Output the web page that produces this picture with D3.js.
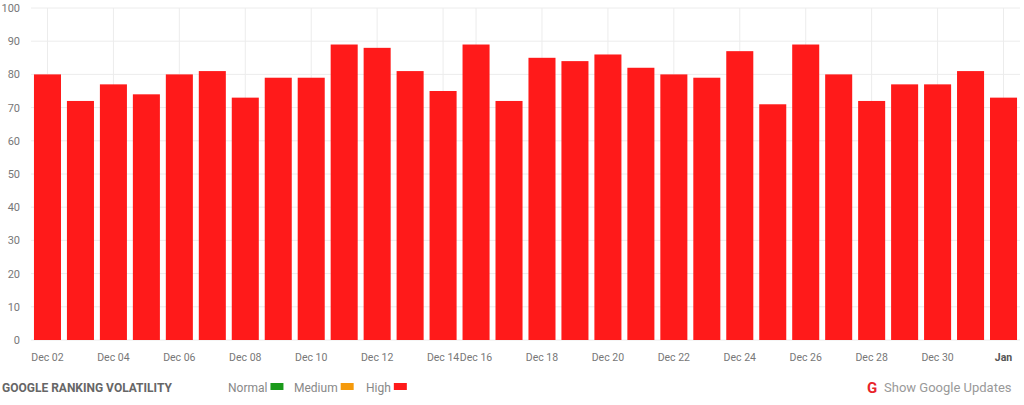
<!DOCTYPE html>
<html><head><meta charset="utf-8">
<script src="https://cdn.jsdelivr.net/npm/d3@7"></script>
<style>body{margin:0;background:#fff;font-family:Roboto,sans-serif}</style>
</head><body><svg id="c" width="1024" height="405"></svg>
<script>
const dates = ["Dec 02","Dec 03","Dec 04","Dec 05","Dec 06","Dec 07","Dec 08","Dec 09","Dec 10","Dec 11","Dec 12","Dec 13","Dec 14","Dec 16","Dec 17","Dec 18","Dec 19","Dec 20","Dec 21","Dec 22","Dec 23","Dec 24","Dec 25","Dec 26","Dec 27","Dec 28","Dec 29","Dec 30","Dec 31","Jan"];
const values = [80,72,77,74,80,81,73,79,79,89,88,81,75,89,72,85,84,86,82,80,79,87,71,89,80,72,77,77,81,73];
const tickLabels = ["Dec 02","Dec 04","Dec 06","Dec 08","Dec 10","Dec 12","Dec 14","Dec 16","Dec 18","Dec 20","Dec 22","Dec 24","Dec 26","Dec 28","Dec 30","Jan"];
const yTicks = [0,10,20,30,40,50,60,70,80,90,100];
const legend = [["Normal","#1a9a1a"],["Medium","#f59a0c"],["High","#ff1a1a"]];

const svg = d3.select("#c");
const x = d3.scaleBand().domain(dates).range([31,1020]).paddingInner(0.18).paddingOuter(0.09);
const y = d3.scaleLinear().domain([0,100]).range([340,8]);
const g = svg.append("g");
g.selectAll("line.h").data(yTicks).join("line").attr("x1",31).attr("x2",1020)
 .attr("y1",d=>y(d)).attr("y2",d=>y(d)).attr("stroke","#ececec");
g.selectAll("line.v").data(tickLabels).join("line")
 .attr("x1",d=>x(d)+x.bandwidth()/2).attr("x2",d=>x(d)+x.bandwidth()/2)
 .attr("y1",8).attr("y2",340).attr("stroke","#ececec");
g.selectAll("text.y").data(yTicks).join("text").attr("x",20).attr("y",d=>y(d)+4)
 .attr("text-anchor","end").attr("font-size",11).attr("fill","#777").text(d=>d);
g.selectAll("rect").data(values).join("rect")
 .attr("x",(d,i)=>x(dates[i])).attr("width",x.bandwidth())
 .attr("y",d=>y(d)).attr("height",d=>y(0)-y(d)).attr("fill","#ff1a1a");
g.selectAll("text.x").data(tickLabels).join("text")
 .attr("x",d=>x(d)+x.bandwidth()/2).attr("y",361).attr("text-anchor","middle")
 .attr("font-size",10.5).attr("fill",d=>d==="Jan"?"#555":"#777")
 .attr("font-weight",d=>d==="Jan"?"bold":"normal").text(d=>d);
svg.append("text").attr("x",2).attr("y",392).attr("font-size",12).attr("font-weight","bold")
 .attr("fill","#666").text("GOOGLE RANKING VOLATILITY");
let lx=[228,294,366];
legend.forEach((l,i)=>{
  const t=svg.append("text").attr("x",lx[i]).attr("y",392).attr("font-size",12).attr("fill","#888").text(l[0]);
  const w=t.node().getComputedTextLength();
  svg.append("rect").attr("x",lx[i]+w+3).attr("y",383).attr("width",13).attr("height",7).attr("fill",l[1]);
});
svg.append("text").attr("x",867).attr("y",393).attr("font-size",15).attr("font-weight","bold").attr("fill","#e8242a").text("G");
svg.append("text").attr("x",884).attr("y",392).attr("font-size",13).attr("fill","#999").text("Show Google Updates");
</script></body></html>
